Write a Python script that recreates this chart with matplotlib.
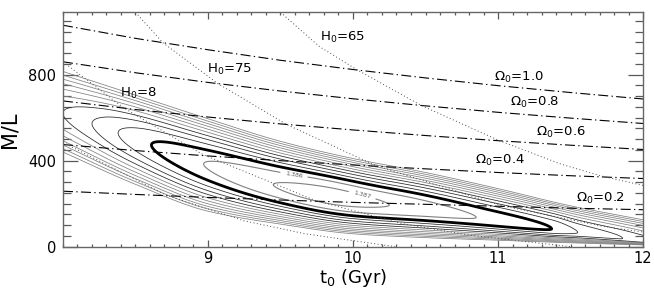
import numpy as np
import matplotlib
matplotlib.use("Agg")
import matplotlib.pyplot as plt

# ---------------- data ----------------
# valley of the likelihood surface (M/L vs t0)
t0_knots      = [8.0, 8.5, 9.0, 9.5, 10.0, 10.5, 11.0, 11.5, 12.0]
valley_centre = [620, 500, 378, 280, 215, 172, 120, 70, 25]
band_upper    = [815, 705, 595, 490, 410, 345, 270, 190, 125]
band_lower    = [440, 290, 165, 105, 60, 42, 30, 18, 8]
band_level    = 12.0
depth_t0      = [8.0, 8.2, 8.38, 8.61, 8.97, 9.45, 9.85, 10.25, 10.85, 11.37, 11.55, 11.86, 12.0]
depth_value   = [6.0, 5.0, 4.0, 3.0, 2.0, 1.0, 0.5, 1.0, 2.0, 3.0, 4.0, 5.0, 5.5]

levels_inner = [1.0, 2.0]
level_thick  = [3.0]
levels_black = [4.0, 5.0, 6.0]
levels_gray  = [7.0, 8.0, 9.0, 10.0, 11.0, 12.0]
inner_labels = {1.0: "1.387", 2.0: "1.386"}

# Omega_0 lines (dash-dot)
omega_t0 = [8.0, 8.5, 9.0, 9.5, 10.0, 10.5, 11.0, 11.5, 12.0]
omega_10 = [1030, 969, 916, 867, 824, 785, 749, 717, 687]
omega_08 = [860, 809, 764, 724, 688, 655, 625, 598, 573]
omega_06 = [678, 638, 603, 571, 543, 517, 493, 472, 452]
omega_04 = [475, 447, 422, 400, 380, 362, 345, 330, 317]
omega_02 = [258, 243, 229, 217, 206, 197, 188, 179, 172]

# H0 lines (dotted)
h65_t0 = [9.50, 9.77, 10.03, 10.47, 11.01, 11.43, 11.71, 12.0]
h65_ml = [1090, 930, 822, 657, 493, 385, 329, 285]
h75_t0 = [8.50, 8.69, 9.07, 9.54, 10.15, 11.03, 11.72, 12.0]
h75_ml = [1090, 948, 758, 569, 379, 190, 95, 68]
h85_t0 = [8.0, 8.42, 8.96, 9.74, 10.34, 10.8, 11.5]
h85_ml = [860, 645, 430, 215, 107, 54, 0]
h95_t0 = [8.0, 8.71, 9.25, 9.67, 10.29]
h95_ml = [485, 240, 120, 60, 0]

line_labels = [
    (r"$\Omega_0$=1.0", 10.97, 785),
    (r"$\Omega_0$=0.8", 11.08, 673),
    (r"$\Omega_0$=0.6", 11.26, 531),
    (r"$\Omega_0$=0.4", 10.84, 399),
    (r"$\Omega_0$=0.2", 11.54, 226),
    (r"H$_0$=65", 9.77, 973),
    (r"H$_0$=75", 8.99, 826),
    (r"H$_0$=8", 8.39, 715),
]

# ---------------- helpers ----------------
def pchip(xk, yk, x):
    xk = np.asarray(xk, float); yk = np.asarray(yk, float)
    h = np.diff(xk); delta = np.diff(yk) / h
    d = np.zeros_like(yk)
    for k in range(1, len(xk) - 1):
        if delta[k - 1] * delta[k] > 0:
            w1 = 2 * h[k] + h[k - 1]; w2 = h[k] + 2 * h[k - 1]
            d[k] = (w1 + w2) / (w1 / delta[k - 1] + w2 / delta[k])
    d[0] = delta[0]; d[-1] = delta[-1]
    i = np.clip(np.searchsorted(xk, x) - 1, 0, len(xk) - 2)
    t = (x - xk[i]) / h[i]
    h00 = 2 * t**3 - 3 * t**2 + 1; h10 = t**3 - 2 * t**2 + t
    h01 = -2 * t**3 + 3 * t**2; h11 = t**3 - t**2
    return h00 * yk[i] + h10 * h[i] * d[i] + h01 * yk[i + 1] + h11 * h[i] * d[i + 1]

# ---------------- figure ----------------
plt.rcParams['font.family'] = ['DejaVu Sans']
fig = plt.figure(figsize=(6.54, 2.94), dpi=100)
ax = fig.add_axes([0.0963, 0.161, 0.8869, 0.797])

xg = np.linspace(8.0, 12.0, 600)
yg = np.linspace(0, 1090, 600)
X, Y = np.meshgrid(xg, yg)
C = pchip(t0_knots, valley_centre, X)
U = pchip(t0_knots, band_upper, X)
B = pchip(t0_knots, band_lower, X)
H = pchip(depth_t0, depth_value, X)
D = Y - C
S = np.where(D >= 0, D / (U - C), D / (C - B))
F = H + (band_level - H) * S**2

ax.contour(X, Y, F, levels=levels_gray, colors='0.5', linewidths=0.55)
ax.contour(X, Y, F, levels=levels_black, colors='0.15', linewidths=0.55)
cs_in = ax.contour(X, Y, F, levels=levels_inner, colors='0.5', linewidths=0.8)
ax.clabel(cs_in, fmt=inner_labels, fontsize=4.5, inline=True, colors='0.35')
ax.contour(X, Y, F, levels=level_thick, colors='black', linewidths=2.0)

dashdot = (0, (9, 3, 1.2, 3))
for vals in [omega_10, omega_08, omega_06, omega_04, omega_02]:
    ax.plot(omega_t0, vals, color='black', lw=0.8, linestyle=dashdot)
for tx, ml in [(h65_t0, h65_ml), (h75_t0, h75_ml), (h85_t0, h85_ml), (h95_t0, h95_ml)]:
    ax.plot(tx, ml, color='0.3', lw=0.7, linestyle=(0, (1, 2.5)))

for txt, x, y in line_labels:
    ax.text(x, y, txt, fontsize=9.5, va='center', ha='left', color='black')

ax.set_xlim(8.0, 12.0)
ax.set_ylim(0, 1090)
ax.set_xticks([9, 10, 11, 12])
ax.set_xticks(np.arange(8.0, 12.01, 0.1), minor=True)
ax.set_yticks([0, 400, 800])
ax.set_yticks(np.arange(0, 1090, 50), minor=True)
ax.tick_params(axis='both', which='both', direction='in', top=True, right=True,
               labelsize=10.5, color='0.35')
ax.tick_params(axis='x', which='major', pad=3)
ax.tick_params(axis='y', which='major', pad=5)
ax.tick_params(axis='y', which='major', length=11, width=0.9)
ax.tick_params(axis='y', which='minor', length=6, width=0.9)
ax.tick_params(axis='x', which='major', length=5, width=0.9)
ax.tick_params(axis='x', which='minor', length=2.5, width=0.9)
for sp in ax.spines.values():
    sp.set_color('0.4')
    sp.set_linewidth(1.0)

ax.set_xlabel(r"t$_0$ (Gyr)", fontsize=13, labelpad=1)
ax.set_ylabel("M/L", fontsize=15, labelpad=6)

fig.savefig("out.png", dpi=100)
